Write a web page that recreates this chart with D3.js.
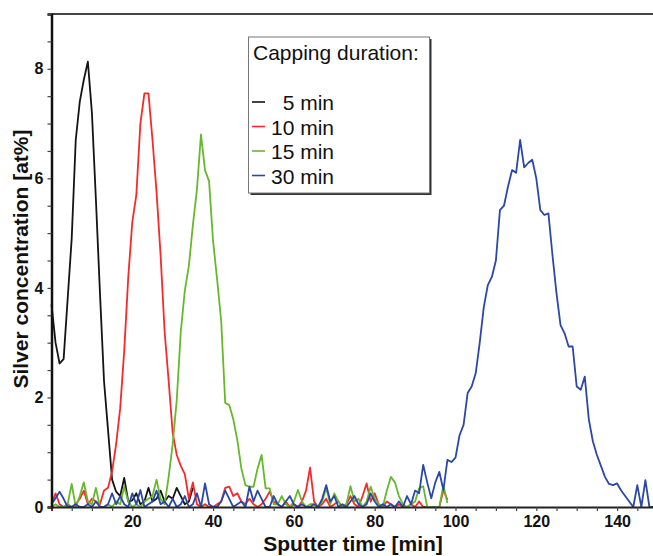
<!DOCTYPE html>
<html>
<head>
<meta charset="utf-8">
<script src="https://cdn.jsdelivr.net/npm/d3@7"></script>
<style>
  html, body { margin: 0; padding: 0; background: #fff; }
  svg { display: block; font-family: "Liberation Sans", Arial, sans-serif; }
</style>
</head>
<body>
<svg id="chart" width="653" height="556"></svg>
<script>
// Sputter depth profiles of silver, sampled once per minute of sputter time.
const sampleStep = 1; // min

const cap5 = [3.7, 3.0, 2.62, 2.7, 3.8, 4.9, 6.7, 7.4, 7.8, 8.13,
  7.2, 5.6, 3.9, 2.3, 1.4, 0.5, 0.28, 0.2, 0.53, 0.1,
  0.12, 0.25, 0.05, 0.1, 0.35, 0.1, 0.15, 0.3, 0.1, 0.2,
  0.15, 0.35, 0.2, 0.05, 0.1, 0.35];

const cap10 = [0.05, 0.25, 0.05, 0.0, 0.05, 0.0, 0.05, 0.15, 0.3, 0.05,
  0.15, 0.1, 0.05, 0.3, 0.35, 0.65, 1.15, 1.8, 2.85, 4.2,
  5.2, 5.7, 7.0, 7.55, 7.55, 6.7, 5.75, 4.6, 3.2, 2.3,
  1.35, 0.95, 0.75, 0.6, 0.15, 0.45, 0.05, 0.0, 0.05, 0.0,
  0.0, 0.05, 0.1, 0.35, 0.37, 0.2, 0.25, 0.1, 0.05, 0.15,
  0.05, 0.0, 0.05, 0.15, 0.28, 0.1, 0.05, 0.0, 0.1, 0.0,
  0.05, 0.0, 0.1, 0.3, 0.72, 0.1, 0.0, 0.05, 0.15, 0.0,
  0.05, 0.1, 0.0, 0.05, 0.2, 0.05, 0.0, 0.2, 0.43, 0.1,
  0.25, 0.05, 0.0, 0.1, 0.05, 0.0, 0.05, 0.0, 0.0, 0.05,
  0.0, 0.1, 0.0, 0.0, 0.0, 0.0, 0.0, 0.31, 0.13];

const cap15 = [0.0, 0.05, 0.0, 0.0, 0.05, 0.42, 0.0, 0.2, 0.45, 0.1,
  0.05, 0.35, 0.0, 0.0, 0.05, 0.0, 0.1, 0.05, 0.37, 0.1,
  0.0, 0.05, 0.0, 0.1, 0.15, 0.2, 0.5, 0.15, 0.05, 0.55,
  1.15, 1.95, 3.2, 3.95, 4.4, 5.15, 5.8, 6.8, 6.15, 5.95,
  4.85, 4.15, 3.4, 1.9, 1.86, 1.6, 1.22, 0.7, 0.4, 0.37,
  0.37, 0.7, 0.95, 0.34, 0.34, 0.05, 0.05, 0.2, 0.05, 0.0,
  0.1, 0.31, 0.1, 0.0, 0.05, 0.05, 0.0, 0.1, 0.35, 0.05,
  0.25, 0.1, 0.0, 0.05, 0.38, 0.1, 0.15, 0.0, 0.1, 0.37,
  0.15, 0.05, 0.0, 0.3, 0.55, 0.45, 0.2, 0.05, 0.0, 0.05,
  0.1, 0.34, 0.38, 0.0, 0.0, 0.0, 0.0, 0.4, 0.07];

const cap30 = [0.05, 0.16, 0.28, 0.15, 0.0, 0.0, 0.05, 0.0, 0.0, 0.05,
  0.0, 0.1, 0.0, 0.0, 0.05, 0.25, 0.05, 0.2, 0.05, 0.0,
  0.25, 0.05, 0.31, 0.0, 0.05, 0.1, 0.3, 0.05, 0.1, 0.0,
  0.15, 0.0, 0.05, 0.2, 0.0, 0.05, 0.25, 0.0, 0.43, 0.05,
  0.0, 0.0, 0.1, 0.3, 0.15, 0.0, 0.05, 0.1, 0.0, 0.37,
  0.1, 0.3, 0.15, 0.0, 0.0, 0.2, 0.05, 0.0, 0.1, 0.2,
  0.05, 0.0, 0.05, 0.0, 0.0, 0.05, 0.0, 0.15, 0.4, 0.1,
  0.2, 0.0, 0.05, 0.0, 0.1, 0.2, 0.05, 0.0, 0.05, 0.25,
  0.1, 0.0, 0.05, 0.0, 0.05, 0.0, 0.1, 0.0, 0.2, 0.05,
  0.3, 0.25, 0.77, 0.45, 0.16, 0.45, 0.64, 0.31, 0.86, 0.82,
  0.9, 1.31, 1.5, 2.08, 2.2, 2.44, 3.0, 3.65, 4.05, 4.2,
  4.5, 5.42, 5.5, 5.85, 6.15, 6.1, 6.7, 6.2, 6.28, 6.34,
  6.0, 5.42, 5.33, 5.36, 4.6, 3.9, 3.32, 3.17, 2.93, 2.93,
  2.2, 2.14, 2.38, 1.6, 1.2, 0.95, 0.75, 0.55, 0.42, 0.4,
  0.43, 0.3, 0.2, 0.1, 0.0, 0.4, 0.0, 0.49, 0.0, 0.0];

const seriesNames = ["  5 min", "10 min", "15 min", "30 min"];
const seriesValues = [cap5, cap10, cap15, cap30];
const seriesColors = ["#141414", "#f52a2a", "#66b82c", "#2b47a8"];

const yTickValues = d3.range(0, 9.01, 0.5);
const yTickLabels = [0, 2, 4, 6, 8];
const xTickValues = d3.range(0, 151, 5);
const xTickLabels = [20, 40, 60, 80, 100, 120, 140];

const svg = d3.select("#chart");

const x = d3.scaleLinear().domain([0, 150]).range([51.5, 657.5]);
const y = d3.scaleLinear().domain([0, 9]).range([507, 14]);

// frame top edge
svg.append("line")
  .attr("x1", x(0)).attr("x2", 653)
  .attr("y1", y(9)).attr("y2", y(9))
  .attr("stroke", "#444").attr("stroke-width", 2);

// data lines
const line = d3.line()
  .x((d, i) => x(i * sampleStep))
  .y(d => y(d));

svg.append("g").selectAll("path")
  .data(seriesValues)
  .join("path")
  .attr("d", d => line(d))
  .attr("fill", "none")
  .attr("stroke", (d, i) => seriesColors[i])
  .attr("stroke-width", 1.8)
  .attr("stroke-linejoin", "round");

// axes
const xAxis = d3.axisBottom(x)
  .tickValues(xTickValues)
  .tickSize(4)
  .tickPadding(5)
  .tickFormat(d => xTickLabels.includes(d) ? d : "");

const gx = svg.append("g")
  .attr("transform", `translate(0,${y(0)})`)
  .call(xAxis);
gx.select(".domain").attr("stroke", "#222").attr("stroke-width", 2);
gx.selectAll(".tick line").attr("stroke", "#444").attr("stroke-width", 1.2);
gx.selectAll(".tick text")
  .attr("font-size", 16).attr("font-weight", "bold").attr("fill", "#111")
  .attr("font-family", "Liberation Sans, Arial, sans-serif");

const yAxis = d3.axisLeft(y)
  .tickValues(yTickValues)
  .tickSize(4)
  .tickPadding(4)
  .tickFormat(d => yTickLabels.includes(d) ? d : "");

const gy = svg.append("g")
  .attr("transform", `translate(${x(0)},0)`)
  .call(yAxis);
gy.select(".domain").attr("stroke", "#111").attr("stroke-width", 2.5);
gy.selectAll(".tick line").attr("stroke", "#444").attr("stroke-width", 1.2);
gy.selectAll(".tick text")
  .attr("font-size", 16).attr("font-weight", "bold").attr("fill", "#111")
  .attr("font-family", "Liberation Sans, Arial, sans-serif");

// axis titles
svg.append("text")
  .attr("x", 353).attr("y", 551)
  .attr("text-anchor", "middle")
  .attr("font-size", 21).attr("font-weight", "bold").attr("fill", "#111")
  .text("Sputter time [min]");

svg.append("text")
  .attr("transform", "translate(28,259) rotate(-90)")
  .attr("text-anchor", "middle")
  .attr("font-size", 21).attr("font-weight", "bold").attr("fill", "#111")
  .text("Silver concentration [at%]");

// legend
const legend = svg.append("g");
legend.append("rect")
  .attr("x", 250.5).attr("y", 39).attr("width", 181).attr("height", 156)
  .attr("fill", "#333");
legend.append("rect")
  .attr("x", 248.5).attr("y", 37).attr("width", 181).attr("height", 156)
  .attr("fill", "#fff").attr("stroke", "#777").attr("stroke-width", 1);
legend.append("text")
  .attr("x", 253).attr("y", 60)
  .attr("font-size", 21).attr("fill", "#111")
  .text("Capping duration:");

const entries = legend.selectAll("g.entry")
  .data(seriesNames)
  .join("g")
  .attr("class", "entry")
  .attr("transform", (d, i) => `translate(0,${110 + i * 24.5})`);
entries.append("line")
  .attr("x1", 252).attr("x2", 265)
  .attr("y1", -8).attr("y2", -8)
  .attr("stroke", (d, i) => seriesColors[i])
  .attr("stroke-width", 1.6);
entries.append("text")
  .attr("x", 334).attr("y", 0)
  .attr("text-anchor", "end")
  .attr("font-size", 21).attr("fill", "#111")
  .style("white-space", "pre")
  .text(d => d.trim());
</script>
</body>
</html>
